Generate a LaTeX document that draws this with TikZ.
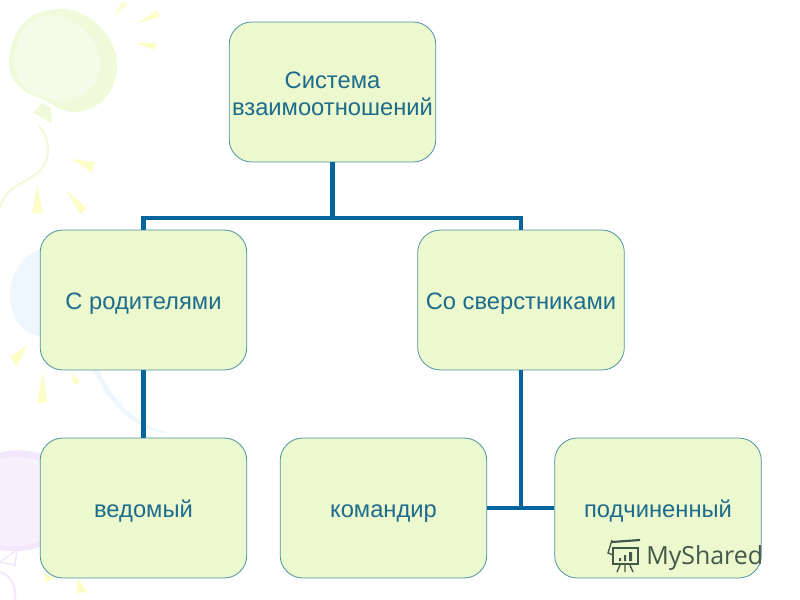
\documentclass[tikz,border=0pt]{standalone}
\usepackage{fontspec}
\setmainfont{Liberation Sans}
\newfontfamily\markfont{Open Sans}
\definecolor{boxfill}{HTML}{ECF8CE}
\definecolor{boxline}{HTML}{4F93A6}
\definecolor{boxtext}{HTML}{1D6C8C}
\definecolor{linkblue}{HTML}{03659C}
\definecolor{raycol}{HTML}{FDFDC8}
\definecolor{greenball}{HTML}{F0F9DA}
\definecolor{greenlight}{HTML}{F6FBE9}
\definecolor{blueball}{HTML}{EEF7FE}
\definecolor{purpleball}{HTML}{F3E8FB}
\definecolor{purplelight}{HTML}{F7F0FD}
\definecolor{markcol}{HTML}{44584A}
\tikzset{
  rbox/.style={draw=boxline, fill=boxfill, line width=.6pt, rounded corners=17pt, minimum width=155pt, minimum height=105pt, text=boxtext, font=\fontsize{17.8}{20.3}\selectfont, align=center, inner sep=0pt},
  onerow/.style={rbox, text height=14pt, text depth=.5pt},
  link/.style={draw=linkblue, line width=3.6pt},
  ray/.style={fill=raycol, draw=none}
}
\begin{document}
\begin{tikzpicture}[x=.75pt, y=-.75pt]
\useasboundingbox (0,0) rectangle (800,600);
\fill[greenball] (50,10) .. controls (85,2) and (117,35) .. (117,65) .. controls (117,95) and (95,113) .. (72,112) .. controls (55,110) and (48,100) .. (40,98) .. controls (20,92) and (8,78) .. (9,62) .. controls (10,35) and (25,12) .. (50,10) -- cycle;
\fill[greenlight] (45,16) .. controls (75,12) and (102,40) .. (100,68) .. controls (98,90) and (80,100) .. (60,100) .. controls (35,98) and (14,85) .. (14,62) .. controls (15,38) and (28,18) .. (45,16) -- cycle;
\fill[greenball] (42,103) -- (33,113) -- (52,123) -- (51,108) -- cycle;
\draw[greenball, line width=1.6pt] (39,126) .. controls (53,142) and (50,165) .. (35,175) .. controls (20,185) and (5,188) .. (0,208);
\foreach \ax/\ay/\bx/\by/\cx/\cy in {115/15/122/2/128/4, 138/23/157/10/160/17, 135/43/157/43/155/50, 72/159/94/162/92/173, 66/190/87/208/80/214, 37/185/43/213/32/213, 27/345/10/357/17/367, 43/372/47/402/37/403, 71/372/81/382/74/385, 43/573/55/578/46/583, 78/578/87/592/77/593}
  \fill[ray] (\ax,\ay) -- (\bx,\by) -- (\cx,\cy) -- cycle;
\fill[blueball] (45,248) .. controls (20,252) and (8,280) .. (10,300) .. controls (12,322) and (25,335) .. (45,337) -- cycle;
\fill[blueball] (98,368) .. controls (115,405) and (140,428) .. (172,433) .. controls (145,435) and (112,412) .. (92,368) -- cycle;
\fill[purpleball] (45,455) .. controls (25,448) and (5,450) .. (0,453) -- (0,550) .. controls (15,553) and (35,550) .. (45,545) -- cycle;
\fill[purplelight] (45,462) .. controls (25,456) and (5,456) .. (0,459) -- (0,545) .. controls (15,548) and (35,545) .. (45,538) -- cycle;
\draw[purpleball, line width=1.2pt] (0,562) -- (17,550) -- (15,565) -- cycle;
\draw[purpleball, line width=1.6pt] (0,572) .. controls (12,575) and (17,590) .. (15,600);
\node[rbox] (root) at (332.5,92) {\rule{0pt}{15pt}Система\\взаимоотношений};
\node[onerow] (par) at (143.5,300) {С родителями};
\node[onerow] (peer) at (521,300) {Со сверстниками};
\node[onerow] (led) at (143.5,508) {ведомый};
\node[onerow] (cmd) at (383.5,508) {командир};
\node[onerow] (sub) at (658,508) {подчиненный};
\coordinate (bus) at (332.5,218);
\coordinate (fork) at (521,508);
\draw[link] (root.south) -- (bus);
\draw[link] (par.north) |- (bus) -| (peer.north);
\draw[link] (par.south) -- (led.north);
\draw[link] (peer.south) -- (fork);
\draw[link] (cmd.east) -- (sub.west);
\node[text=markcol, font=\markfont\fontsize{18.7}{20}\selectfont, anchor=base west, inner sep=0pt] (mark) at (646,564) {MyShared};
\draw[markcol, line width=1pt] (613,548) rectangle (638,564);
\draw[markcol, line width=1.6pt] (612,542) -- (640,540);
\draw[markcol, line width=1pt] (612,540) -- (608,553) -- (613,555);
\fill[markcol] (619,558) rectangle (621,561) (624,555) rectangle (626,561) (629,552) rectangle (632,561);
\draw[markcol, line width=1pt] (620,565) -- (617,572) (625,565) -- (625,572) (630,565) -- (633,572);
\end{tikzpicture}
\end{document}
